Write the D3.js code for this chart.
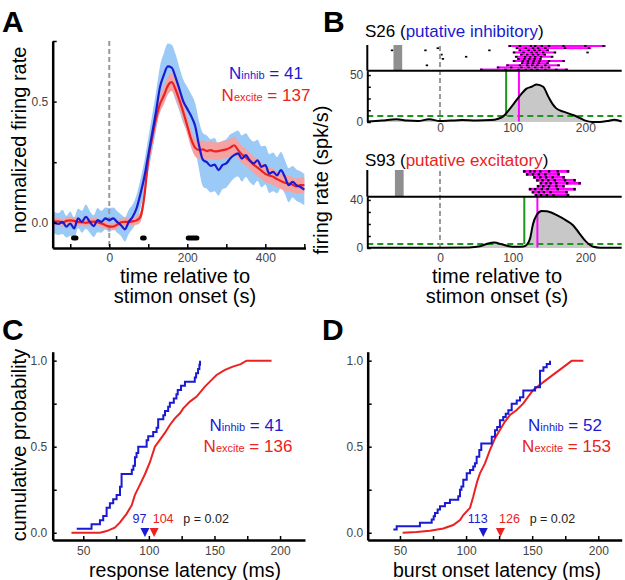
<!DOCTYPE html>
<html><head><meta charset="utf-8">
<script src="https://cdn.jsdelivr.net/npm/d3@7"></script>
<style>
body{margin:0;background:#fff;}
svg{display:block;}
</style></head><body>
<svg id="fig" width="625" height="580"></svg>
<script>
// ================= DATA =================
// Panel A: population PSTH (normalized firing rate)
const timeA = [-145,-130,-120,-110,-100,-90,-80,-70,-60,-50,-40,-30,-20,-10,0,10,20,30,40,50,60,70,80,90,100,110,120,130,140,150,160,170,180,190,200,210,220,230,240,250,260,270,280,290,300,310,320,330,340,350,360,370,380,390,400,410,420,430,440,450,460,470,480,490,500];
const inhibMean = [0.004,-0.005,0.004,-0.016,-0.003,-0.023,0.018,0.004,0.025,0.004,-0.014,0.011,0.004,0.018,0.011,0.018,0.004,-0.010,-0.027,0.004,0.025,0.060,0.120,0.190,0.280,0.370,0.460,0.560,0.610,0.645,0.640,0.600,0.550,0.500,0.470,0.440,0.400,0.320,0.260,0.250,0.235,0.240,0.217,0.238,0.245,0.265,0.279,0.286,0.265,0.279,0.258,0.245,0.258,0.231,0.238,0.203,0.210,0.196,0.217,0.190,0.155,0.169,0.155,0.148,0.137];
const inhibSem = [0.045,0.045,0.050,0.045,0.050,0.045,0.040,0.045,0.050,0.045,0.045,0.050,0.045,0.045,0.050,0.045,0.045,0.045,0.050,0.050,0.050,0.055,0.060,0.065,0.070,0.075,0.080,0.085,0.090,0.095,0.095,0.095,0.090,0.090,0.090,0.090,0.095,0.100,0.110,0.110,0.110,0.110,0.105,0.100,0.100,0.100,0.095,0.095,0.095,0.090,0.090,0.090,0.085,0.085,0.080,0.080,0.080,0.075,0.075,0.070,0.070,0.065,0.065,0.065,0.065];
const exciteMean = [0.005,0.006,0.000,0.008,0.010,0.008,0.003,0.002,0.000,0.003,0.005,0.003,-0.003,-0.010,-0.016,-0.016,-0.008,0.002,0.004,0.004,0.006,0.010,0.025,0.110,0.260,0.350,0.430,0.490,0.525,0.565,0.580,0.550,0.505,0.455,0.400,0.345,0.310,0.300,0.303,0.296,0.300,0.295,0.296,0.300,0.303,0.310,0.320,0.300,0.282,0.270,0.255,0.240,0.228,0.215,0.202,0.195,0.190,0.180,0.172,0.165,0.162,0.157,0.150,0.155,0.155];
const exciteSem = [0.015,0.015,0.015,0.015,0.015,0.015,0.015,0.015,0.015,0.015,0.015,0.015,0.015,0.015,0.015,0.015,0.015,0.015,0.015,0.015,0.015,0.018,0.022,0.028,0.030,0.032,0.034,0.035,0.036,0.036,0.036,0.036,0.035,0.035,0.035,0.035,0.035,0.036,0.036,0.036,0.036,0.036,0.036,0.036,0.036,0.036,0.036,0.036,0.035,0.035,0.035,0.035,0.035,0.034,0.034,0.034,0.034,0.033,0.033,0.033,0.032,0.032,0.032,0.032,0.032];
const sigIntervals = [[-98,-79],[79,96],[196,231]];
const xTicksA = [-100,0,100,200,300,400,500];
const xLabelsA = [0,200,400];
const yTicksA = [0,0.25,0.5,0.75];
const yLabelsA = {0:"0.0",0.5:"0.5"};

// Panel B: example units
const timeS26 = [-100,-80,-60,-45,-30,-15,0,15,30,50,70,80,87,95,105,112,119,126,133,142,149,155,160,170,183,193,200,210,220,230,240,250];
const rateS26 = [0.5,1.5,3,1.5,1,3,1,1.5,2,1.5,2,3.5,6,13,23,30,35.5,37.5,40,37.5,27,19,14.5,11,7.4,4,1.5,0,0,1,2.5,0.5];
const burstsS26 = [[94,228],[104,208],[108,150],[100,160],[110,146],[103,156],[106,140],[100,172],[112,150],[91,165],[78,152],[55,176]];
const spikesS26 = [[96,110,125,131,140,150,170,200,225],[-3,106,118,128,135,145,172,205],[-66,-20,68,110,122,130,137,148],[102,115,126,133,142,158,203],[2,112,120,128,135,144],[36,105,117,124,131,139,154],[4,108,116,123,130,138],[102,114,121,129,137,150,170],[113,121,128,136,148],[-18,93,110,120,127,134,145,163],[80,98,112,122,131,140,150],[57,90,108,118,126,134,145,160,174]];
const stimS26 = [-64,-52];
const onsetS26 = 91, burstS26 = 108.6, threshS26 = 6.4;
const yTicksS26 = [0,12.5,25,37.5,50];

const timeS93 = [-100,-50,0,40,55,65,75,85,95,105,115,120,124,128,133,140,147,153,160,174,183,192,201,211,220,250];
const rateS93 = [0.3,0.3,0.3,0.5,1.5,3.5,4.5,3,1.5,1,1.2,3,8,20,27.5,30.8,30.5,29.5,27.5,22.8,19,12,5.3,1,0.3,0.3];
const burstsS93 = [[114,178],[118,165],[128,172],[132,187],[137,194],[133,171],[122,187],[126,176],[130,178]];
const spikesS93 = [[116,124,130,138,150,162,176],[120,128,136,145,163],[130,138,146,155,170],[134,141,149,158,172,185],[139,146,152,160,175,192],[135,142,150,160,170],[124,131,140,148,162,185],[128,136,143,152,174],[132,139,147,156,176]];
const stimS93 = [-62,-50];
const onsetS93 = 116, burstS93 = 134, threshS93 = 3.3;
const yTicksS93 = [0,10,20,30,40];
const xTicksB = [0,100,200];

// Panel C: response latency CDFs
const inhibLatC = [45,56.3,62.7,65.2,67.8,70.3,72.8,75.4,78,79.2,87,88.2,89.4,90.6,91.9,98.3,99.5,103.3,105.9,107.1,111,112.3,114.7,116,119,121,122,124.5,127.5,135,136,137.5,138.5,139];
const inhibCumC = [0.024,0.049,0.073,0.098,0.146,0.171,0.195,0.22,0.268,0.341,0.366,0.39,0.439,0.463,0.5,0.537,0.561,0.585,0.61,0.659,0.683,0.707,0.732,0.756,0.78,0.805,0.829,0.854,0.878,0.902,0.927,0.951,0.976,1.0];
const exciteLatC = [41,62.7,67.8,74,78,83,86.9,89.4,93.2,97,100.8,104.6,108.4,112.2,116,119.8,123.7,126.2,131.3,136.4,142.7,146.5,151.6,158,164,170,174.4,193.5];
const exciteCumC = [0,0,0.01,0.03,0.06,0.11,0.16,0.22,0.28,0.34,0.41,0.5,0.54,0.58,0.626,0.665,0.694,0.723,0.762,0.791,0.849,0.878,0.917,0.946,0.965,0.98,1.0,1.0];
const mediansC = [97,104];

// Panel D: burst onset latency CDFs
const inhibLatD = [45,47.5,65.1,74,75.5,76.5,78.5,80.3,84,87.8,94.1,95.4,96.5,97.9,100.5,103,105.4,106.7,108,110,111.5,119.4,121.9,123.5,125.6,128.1,130,132,134.5,138.3,140.8,143.3,152.2,155.9,158.5,161,163.5];
const inhibCumD = [0.019,0.038,0.058,0.077,0.096,0.115,0.135,0.154,0.173,0.192,0.212,0.25,0.269,0.308,0.346,0.365,0.385,0.404,0.442,0.481,0.519,0.558,0.596,0.615,0.654,0.673,0.692,0.712,0.75,0.769,0.788,0.827,0.846,0.942,0.962,0.981,1.0];
const exciteLatD = [52,62.6,72.7,82.8,90.3,95.4,97.9,103,105.4,106.7,108.5,110.5,114.3,118,121.9,125.6,129.4,133.2,138.3,143.3,147,150.8,157.2,162.2,167.2,172.3,177.3,179.9,188.7];
const exciteCumD = [0,0.004,0.012,0.025,0.045,0.074,0.103,0.145,0.209,0.248,0.3,0.345,0.403,0.48,0.549,0.597,0.646,0.684,0.713,0.752,0.791,0.83,0.868,0.897,0.926,0.955,0.984,1.0,1.0];
const mediansD = [113,126];

const xTicksCD = [50,75,100,125,150,175,200];
const xLabelsCD = [50,100,150,200];
const yTicksCD = [0,0.25,0.5,0.75,1.0];
const yLabelsCD = {0:"0.0",0.5:"0.5",1:"1.0"};

// ================= STYLE =================
const FONT = "'Liberation Sans', Arial, Helvetica, sans-serif";
const BLUE = "#1a1ad2", RED = "#ea2222";
const BLUE_SHADE = "#9ccaf6", RED_SHADE = "#f4a2a2";
const MAGENTA = "#ff00ff", GREEN = "#1e961e", DGRAY = "#999999";

const svg = d3.select("#fig");
svg.append("rect").attr("width",625).attr("height",580).attr("fill","#fff");

function styleAxis(g, fs){
  g.select(".domain").attr("stroke","#000").attr("stroke-width",2.5);
  g.selectAll(".tick line").attr("stroke","#000").attr("stroke-width",1.5);
  g.selectAll(".tick text").attr("font-family",FONT).attr("font-size",fs||12).attr("fill","#444");
}
function txt(x,y,s,opts){
  opts = opts||{};
  const t = svg.append("text").attr("x",x).attr("y",y).text(s)
    .attr("font-family",FONT).attr("font-size",opts.size||20)
    .attr("fill",opts.fill||"#000").attr("text-anchor",opts.anchor||"start");
  if(opts.weight) t.attr("font-weight",opts.weight);
  if(opts.rotate) t.attr("transform",`rotate(-90,${x},${y})`);
  return t;
}
function legend(cx, y, main, sub, rest, color){
  const t = svg.append("text").attr("x",cx).attr("y",y).attr("text-anchor","middle")
    .attr("font-family",FONT).attr("font-size",17).attr("fill",color);
  t.append("tspan").text(main);
  t.append("tspan").attr("font-size",11).text(sub);
  t.append("tspan").text(rest);
}

// ================= PANEL A =================
const xA = d3.scaleLinear().domain([-145,503]).range([52.7,305.5]);
const yA = d3.scaleLinear().domain([-0.104,0.75]).range([248,41]);
const gA = svg.append("g");
function band(mean, sem){
  return d3.area().x((d,i)=>xA(timeA[i])).y0((d,i)=>yA(mean[i]-sem[i])).y1((d,i)=>yA(mean[i]+sem[i])).curve(d3.curveMonotoneX)(mean);
}
function mline(mean){
  return d3.line().x((d,i)=>xA(timeA[i])).y(d=>yA(d)).curve(d3.curveMonotoneX)(mean);
}
gA.append("path").attr("d",band(inhibMean,inhibSem)).attr("fill",BLUE_SHADE);
gA.append("path").attr("d",band(exciteMean,exciteSem)).attr("fill",RED_SHADE);
gA.append("line").attr("x1",xA(0)).attr("x2",xA(0)).attr("y1",yA.range()[1]).attr("y2",yA.range()[0])
  .attr("stroke",DGRAY).attr("stroke-width",2).attr("stroke-dasharray","5,3");
gA.append("path").attr("d",mline(exciteMean)).attr("fill","none").attr("stroke",RED).attr("stroke-width",2.2);
gA.append("path").attr("d",mline(inhibMean)).attr("fill","none").attr("stroke",BLUE).attr("stroke-width",2.2);
gA.selectAll("rect.sig").data(sigIntervals).enter().append("rect")
  .attr("x",d=>xA(d[0])).attr("width",d=>xA(d[1])-xA(d[0])).attr("y",235.5).attr("height",5).attr("rx",2.5).attr("fill","#000");
const axAx = gA.append("g").attr("transform","translate(0,248)")
  .call(d3.axisBottom(xA).tickValues(xTicksA).tickSizeInner(-4).tickSizeOuter(0).tickPadding(5.5)
  .tickFormat(d=>xLabelsA.includes(d)?d:""));
styleAxis(axAx);
const ayAx = gA.append("g").attr("transform",`translate(${xA.range()[0]},0)`)
  .call(d3.axisLeft(yA).tickValues(yTicksA).tickSizeInner(-4).tickSizeOuter(0).tickPadding(4.5)
  .tickFormat(d=>yLabelsA[d]||""));
styleAxis(ayAx);
legend(266,79,"N","inhib"," = 41",BLUE);
legend(266,101,"N","excite"," = 137",RED);
txt(2,32,"A",{size:30,weight:"bold"});
txt(185,283,"time relative to",{anchor:"middle"});
txt(185,303,"stimon onset (s)",{anchor:"middle"});
txt(26,140,"normalized firing rate",{anchor:"middle",rotate:true});

// ================= PANEL B =================
const xB = d3.scaleLinear().domain([-100,250]).range([367.3,621.7]);
function unitPanel(o){
  const g = svg.append("g");
  const yR = d3.scaleBand().domain(d3.range(o.bursts.length)).range([o.rTop,o.sep]);
  const y = d3.scaleLinear().domain([0,o.ymax]).range([o.bottom,o.sep]);
  g.append("rect").attr("x",xB(o.stim[0])).attr("width",xB(o.stim[1])-xB(o.stim[0]))
    .attr("y",o.rTop).attr("height",o.sep-o.rTop).attr("fill","#8f8f8f");
  g.selectAll("rect.b").data(o.bursts).enter().append("rect")
    .attr("x",d=>xB(d[0])).attr("width",d=>xB(d[1])-xB(d[0]))
    .attr("y",(d,i)=>yR(i)).attr("height",yR.bandwidth()*0.95).attr("fill",MAGENTA);
  o.spikes.forEach((row,i)=>{
    g.selectAll(null).data(row).enter().append("rect")
      .attr("x",d=>xB(d)-1.2).attr("width",2.4).attr("y",yR(i)+0.2).attr("height",Math.max(1.6,yR.bandwidth()*0.8)).attr("fill","#000");
  });
  g.append("path").attr("d",d3.area().x((d,i)=>xB(o.t[i])).y0(y(0)).y1(d=>y(d)).curve(d3.curveMonotoneX)(o.r))
    .attr("fill","#c8c8c8");
  g.append("line").attr("x1",xB.range()[0]).attr("x2",xB.range()[1]).attr("y1",y(o.thresh)).attr("y2",y(o.thresh))
    .attr("stroke",GREEN).attr("stroke-width",2).attr("stroke-dasharray","6,4");
  g.append("line").attr("x1",xB(0)).attr("x2",xB(0)).attr("y1",o.rTop+1).attr("y2",o.bottom)
    .attr("stroke",DGRAY).attr("stroke-width",2).attr("stroke-dasharray","5,3");
  g.append("line").attr("x1",xB(o.onset)).attr("x2",xB(o.onset)).attr("y1",o.sep).attr("y2",y(o.thresh))
    .attr("stroke",GREEN).attr("stroke-width",2);
  g.append("line").attr("x1",xB(o.burst)).attr("x2",xB(o.burst)).attr("y1",o.sep).attr("y2",y(0)-0.5)
    .attr("stroke",MAGENTA).attr("stroke-width",2);
  g.append("path").attr("d",d3.line().x((d,i)=>xB(o.t[i])).y(d=>y(d)).curve(d3.curveMonotoneX)(o.r))
    .attr("fill","none").attr("stroke","#000").attr("stroke-width",2);
  g.append("line").attr("x1",xB.range()[0]).attr("x2",xB.range()[1]).attr("y1",o.sep).attr("y2",o.sep).attr("stroke","#000").attr("stroke-width",2);
  g.append("line").attr("x1",xB.range()[0]).attr("x2",xB.range()[0]).attr("y1",o.rTop).attr("y2",o.sep).attr("stroke","#000").attr("stroke-width",2);
  const ay = g.append("g").attr("transform",`translate(${xB.range()[0]},0)`)
    .call(d3.axisLeft(y).tickValues(o.yticks).tickSizeInner(-3.5).tickSizeOuter(0).tickPadding(4)
    .tickFormat(d=>(d===0||d===o.yticks[o.yticks.length-1])?d:""));
  styleAxis(ay);
  ay.select(".domain").attr("stroke-width",2);
  const ax = g.append("g").attr("transform",`translate(0,${o.bottom})`)
    .call(d3.axisBottom(xB).tickValues(xTicksB).tickSize(0).tickPadding(o.xpad));
  styleAxis(ax);
  ax.select(".domain").remove();
  const t = svg.append("text").attr("x",365).attr("y",o.titleY).attr("font-family",FONT).attr("font-size",17).attr("fill","#000");
  t.append("tspan").text(o.name+" (");
  t.append("tspan").attr("fill",o.color).text(o.kind);
  t.append("tspan").text(")");
}
unitPanel({name:"S26",kind:"putative inhibitory",color:BLUE,rTop:45,sep:70.7,bottom:122,ymax:54.6,
  t:timeS26,r:rateS26,bursts:burstsS26,spikes:spikesS26,stim:stimS26,onset:onsetS26,burst:burstS26,thresh:threshS26,
  yticks:yTicksS26,xpad:1.5,titleY:37});
unitPanel({name:"S93",kind:"putative excitatory",color:RED,rTop:170,sep:196.7,bottom:248,ymax:42.7,
  t:timeS93,r:rateS93,bursts:burstsS93,spikes:spikesS93,stim:stimS93,onset:onsetS93,burst:burstS93,thresh:threshS93,
  yticks:yTicksS93,xpad:5.5,titleY:166});
txt(323,32,"B",{size:30,weight:"bold"});
txt(497,283,"time relative to",{anchor:"middle"});
txt(497,303,"stimon onset (s)",{anchor:"middle"});
txt(328,180,"firing rate (spk/s)",{anchor:"middle",rotate:true});

// ================= PANELS C & D =================
function cdfPanel(o){
  const x = d3.scaleLinear().domain(o.xdom).range(o.xr);
  const y = d3.scaleLinear().domain([-0.042,1.052]).range([540,351.7]);
  const g = svg.append("g");
  g.append("path").attr("d",d3.line().x((d,i)=>x(o.exLat[i])).y(d=>y(d))(o.exCum))
    .attr("fill","none").attr("stroke",RED).attr("stroke-width",2);
  g.append("path").attr("d",d3.line().x((d,i)=>x(o.inLat[i])).y(d=>y(d)).curve(d3.curveStepAfter)(o.inCum))
    .attr("fill","none").attr("stroke",BLUE).attr("stroke-width",2);
  const ax = g.append("g").attr("transform","translate(0,540)")
    .call(d3.axisBottom(x).tickValues(xTicksCD).tickSizeInner(-4).tickSizeOuter(0).tickPadding(6.5)
    .tickFormat(d=>xLabelsCD.includes(d)?d:""));
  styleAxis(ax);
  const ay = g.append("g").attr("transform",`translate(${o.xr[0]},0)`)
    .call(d3.axisLeft(y).tickValues(yTicksCD).tickSizeInner(-4).tickSizeOuter(0).tickPadding(o.ypad)
    .tickFormat(d=>yLabelsCD[d]||""));
  styleAxis(ay);
  const cols = [BLUE,RED];
  o.med.forEach((m,i)=>{
    const cx = x(m);
    g.append("path").attr("d",`M${cx-4.5},528L${cx+4.5},528L${cx},537Z`).attr("fill",cols[i]);
  });
  txt(x(o.med[0])-5.5,523,String(o.med[0]),{size:12.5,fill:BLUE,anchor:"middle"});
  txt(x(o.med[1])+9,523,String(o.med[1]),{size:12.5,fill:RED,anchor:"middle"});
  txt(x(o.med[1])+52,523,"p = 0.02",{size:12.5,fill:"#222",anchor:"middle"});
  legend(o.legX,431,"N","inhib",o.nIn,BLUE);
  legend(o.legX+1.5,452,"N","excite",o.nEx,RED);
}
cdfPanel({xdom:[26.7,219],xr:[52.7,305],inLat:inhibLatC,inCum:inhibCumC,exLat:exciteLatC,exCum:exciteCumC,
  med:mediansC,ypad:5.5,legX:246.5,nIn:" = 41",nEx:" = 136"});
cdfPanel({xdom:[25.6,217.7],xr:[367.7,621.7],inLat:inhibLatD,inCum:inhibCumD,exLat:exciteLatD,exCum:exciteCumD,
  med:mediansD,ypad:4.5,legX:565,nIn:" = 52",nEx:" = 153"});
txt(2,340,"C",{size:30,weight:"bold"});
txt(322,340,"D",{size:30,weight:"bold"});
txt(185,577,"response latency (ms)",{anchor:"middle",size:19.5});
txt(497,577,"burst onset latency (ms)",{anchor:"middle",size:19.5});
txt(26,445,"cumulative probability",{anchor:"middle",rotate:true});
</script>
</body></html>
